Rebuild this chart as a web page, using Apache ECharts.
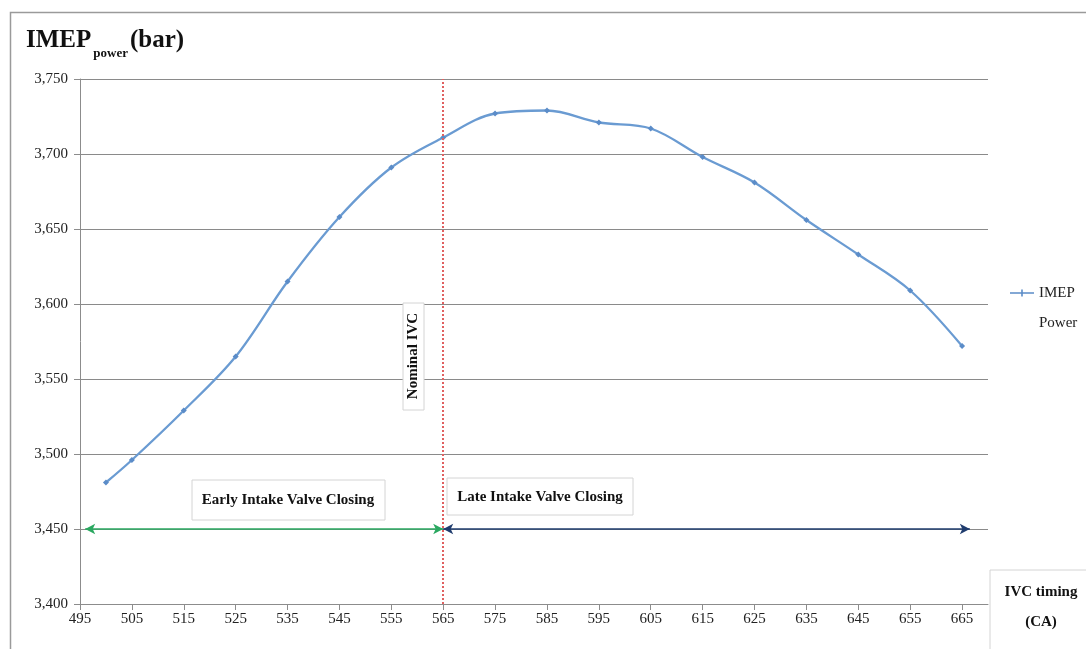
<!DOCTYPE html>
<html><head><meta charset="utf-8">
<script src="https://cdn.jsdelivr.net/npm/echarts@6/dist/echarts.min.js"></script>
<style>html,body{margin:0;padding:0;background:#fff}#c{width:1086px;height:649px}</style>
</head><body><div id="c"></div>
<script>
const ivcTiming = [500, 505, 515, 525, 535, 545, 555, 565, 575, 585, 595, 605, 615, 625, 635, 645, 655, 665];
const imepPower = [3481, 3496, 3529, 3565, 3615, 3658, 3691, 3711, 3727, 3729, 3721, 3717, 3698, 3681, 3656, 3633, 3609, 3572];
const nominalIVC = 565;
const earlyRange = [496, 565];
const lateRange = [565, 666.5];
const arrowLevel = 3450;

const serif = '"Liberation Serif","DejaVu Serif",serif';
const chart = echarts.init(document.getElementById('c'));
const option = {
  animation: false,
  backgroundColor: '#fff',
  grid: {left: 80, top: 79, right: 98, bottom: 45},
  xAxis: {
    type: 'value', min: 495, max: 670, interval: 10,
    axisLine: {show: true, lineStyle: {color: '#8c8c8c'}},
    axisTick: {show: true, length: 6, lineStyle: {color: '#8c8c8c'}},
    axisLabel: {showMaxLabel: false, color: '#222', fontFamily: serif, fontSize: 15, margin: 8},
    splitLine: {show: false}
  },
  yAxis: {
    type: 'value', min: 3400, max: 3750, interval: 50,
    axisLine: {show: true, lineStyle: {color: '#8c8c8c'}},
    axisTick: {show: true, length: 6, lineStyle: {color: '#8c8c8c'}},
    axisLabel: {color: '#222', fontFamily: serif, fontSize: 15, margin: 12,
      formatter: v => v.toLocaleString('en-US')},
    splitLine: {show: true, lineStyle: {color: '#8a8a8a', width: 1}}
  },
  legend: {
    orient: 'vertical', left: 1005, top: 243, itemWidth: 24, itemHeight: 8, itemGap: 4,
    textStyle: {fontFamily: serif, fontSize: 15, color: '#222', lineHeight: 30},
    formatter: () => ' \nIMEP\nPower',
    data: [{name: 'IMEP Power', icon: 'path://M0,3.2 L24,3.2 L24,4.8 L0,4.8 Z M11.2,0.5 L12.8,0.5 L12.8,7.5 L11.2,7.5 Z'}]
  },
  series: [{
    name: 'IMEP Power', type: 'line', smooth: 0.35,
    data: ivcTiming.map((x, i) => [x, imepPower[i]]),
    symbol: 'diamond', symbolSize: 6,
    lineStyle: {color: '#6a9bd2', width: 2.3},
    itemStyle: {color: '#5b8cc8'},
    markLine: {
      silent: true, animation: false,
      label: {show: false},
      data: [
        [{coord: [nominalIVC, 3400], symbol: 'none', lineStyle: {color: '#e06060', type: [2, 2], width: 2}},
         {coord: [nominalIVC, 3750], symbol: 'none'}],
        [{coord: [earlyRange[0], arrowLevel], symbol: 'arrow', symbolSize: [8, 10], lineStyle: {color: '#2aa860', type: 'solid', width: 1.5}},
         {coord: [earlyRange[1], arrowLevel], symbol: 'arrow', symbolSize: [8, 10]}],
        [{coord: [lateRange[0], arrowLevel], symbol: 'arrow', symbolSize: [8, 10], lineStyle: {color: '#1f3c6e', type: 'solid', width: 1.5}},
         {coord: [lateRange[1], arrowLevel], symbol: 'arrow', symbolSize: [8, 10]}]
      ]
    }
  }],
  graphic: [
    {type: 'rect', left: 8, top: 10, shape: {width: 1100, height: 660}, style: {fill: 'none', stroke: '#9a9a9a', lineWidth: 1.5}, z: -1},
    {type: 'text', left: 26, top: 28, style: {
      text: '{b|IMEP}{s|power}{b|(bar)}',
      rich: {
        b: {fontFamily: serif, fontWeight: 'bold', fontSize: 25, fill: '#111', verticalAlign: 'bottom'},
        s: {fontFamily: serif, fontWeight: 'bold', fontSize: 13, fill: '#111', padding: [0, 2, -7, 2], verticalAlign: 'bottom'}
      }}},
    {type: 'rect', shape: {x: 403, y: 303, width: 21, height: 107}, style: {fill: '#fff', stroke: '#d4d4d4', lineWidth: 1}, z: 10},
    {type: 'text', x: 413.5, y: 356, rotation: Math.PI / 2, z: 11, style: {
      text: 'Nominal IVC', fontFamily: serif, fontWeight: 'bold', fontSize: 15, fill: '#111',
      align: 'center', verticalAlign: 'middle'}},
    {type: 'rect', shape: {x: 192, y: 480, width: 193, height: 40}, style: {fill: '#fff', stroke: '#d4d4d4', lineWidth: 1}, z: 10},
    {type: 'text', x: 288, y: 500, z: 11, style: {
      text: 'Early Intake Valve Closing', fontFamily: serif, fontWeight: 'bold', fontSize: 15, fill: '#111',
      align: 'center', verticalAlign: 'middle'}},
    {type: 'rect', shape: {x: 447, y: 478, width: 186, height: 37}, style: {fill: '#fff', stroke: '#d4d4d4', lineWidth: 1}, z: 10},
    {type: 'text', x: 540, y: 497, z: 11, style: {
      text: 'Late Intake Valve Closing', fontFamily: serif, fontWeight: 'bold', fontSize: 15, fill: '#111',
      align: 'center', verticalAlign: 'middle'}},
    {type: 'rect', shape: {x: 990, y: 570, width: 110, height: 90}, style: {fill: '#fff', stroke: '#d4d4d4', lineWidth: 1}, z: 10},
    {type: 'text', x: 1041, y: 607, z: 11, style: {
      text: 'IVC timing\n(CA)', fontFamily: serif, fontWeight: 'bold', fontSize: 15, lineHeight: 30, fill: '#111',
      align: 'center', verticalAlign: 'middle'}}
  ]
};
chart.setOption(option);
</script></body></html>
